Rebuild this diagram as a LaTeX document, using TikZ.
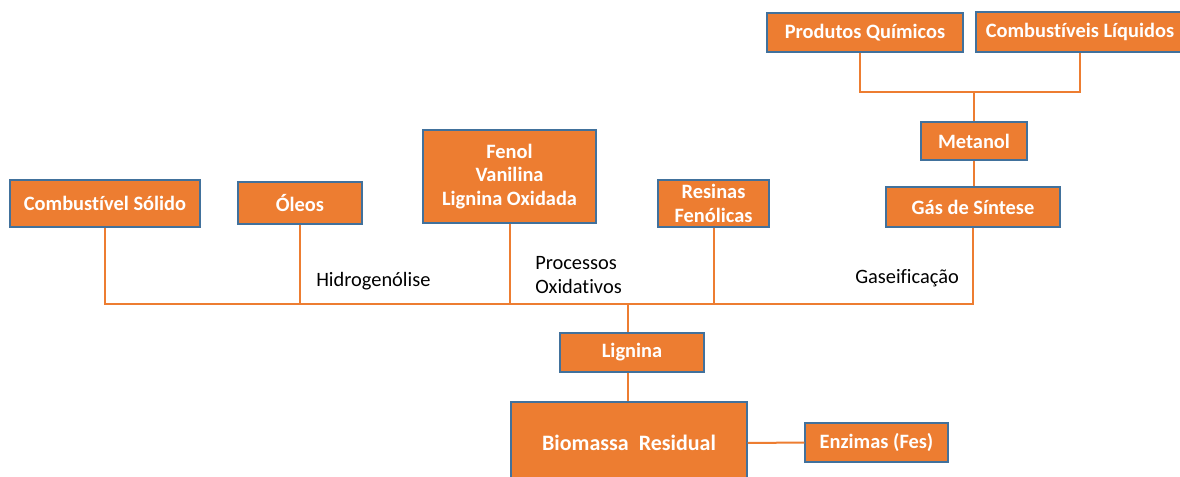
\documentclass[tikz,border=0pt]{standalone}
\usepackage{fontspec}
\setmainfont[Ligatures=NoCommon]{Carlito}
\definecolor{orng}{HTML}{ED7D31}
\definecolor{bdr}{HTML}{41719C}
\begin{document}
\begin{tikzpicture}[x=0.75pt,y=-0.75pt,
 box/.style={draw=bdr, fill=orng, line width=1.1pt, text=white, font=\bfseries\fontsize{15.3}{17.8}\selectfont, inner sep=0pt, align=center},
 conn/.style={draw=orng, line width=1.5pt},
 lbl/.style={font=\fontsize{15.3}{18}\selectfont, text=black, anchor=west, align=left, inner sep=0pt}]
\useasboundingbox (0,0) rectangle (1180,477);
\clip (0,0) rectangle (1180,477);
\fill[white] (0,0) rectangle (1180,477);
% boxes
\node[box, minimum width=142.5pt, minimum height=35.25pt] (cs) at (105,203.5) {Combustível Sólido};
\node[box, minimum width=93pt, minimum height=31.5pt] (ol) at (300,203) {Óleos};
\node[box, minimum width=129.75pt, minimum height=69.75pt] (fe) at (509.5,176.5) {Fenol\\Vanilina\\Lignina Oxidada};
\node[box, minimum width=83.25pt, minimum height=35.25pt] (rf) at (713.5,203.5) {Resinas\\Fenólicas};
\node[box, minimum width=130.5pt, minimum height=30pt] (gs) at (973,207) {Gás de Síntese};
\node[box, minimum width=79.5pt, minimum height=28.5pt] (me) at (974,141) {Metanol};
\node[box, minimum width=147pt, minimum height=29.25pt] (pq) at (865,32.5) {Produtos Químicos};
\node[box, minimum width=156pt, minimum height=30pt] (cl) at (1080,32) {Combustíveis Líquidos};
\node[box, minimum width=108pt, minimum height=29.25pt] (li) at (632,352.5) {Lignina};
\node[box, minimum width=177pt, minimum height=61.5pt, font=\bfseries\fontsize{16.5}{19}\selectfont] (bi) at (629,443) {Biomassa\ \ Residual};
\node[box, minimum width=107.25pt, minimum height=29.25pt] (en) at (876.5,442.5) {Enzimas (Fes)};
% labels
\node[lbl] (hg) at (316,281) {Hidrogenólise};
\node[lbl] (po) at (535,275) {Processos\\Oxidativos};
\node[lbl] (ga) at (855,278) {Gaseificação};
% connectors
\coordinate (hub) at (628,304);
\coordinate (tj) at (974,92);
\draw[conn] (cs.south) |- (hub) -| (gs.south);
\draw[conn] (ol.south) -- (ol.south |- hub);
\draw[conn] (fe.south) -- (fe.south |- hub);
\draw[conn] (rf.south) -- (rf.south |- hub);
\draw[conn] (hub) -- (hub |- li.north);
\draw[conn] (li.south -| hub) -- (hub |- bi.north);
\draw[conn] (bi.east) -- (en.west);
\draw[conn] (gs.north -| me.south) -- (me.south);
\draw[conn] (me.north) -- (tj);
\draw[conn] ([xshift=-3.75pt]pq.south) |- (tj) -| (cl.south);
\end{tikzpicture}
\end{document}
